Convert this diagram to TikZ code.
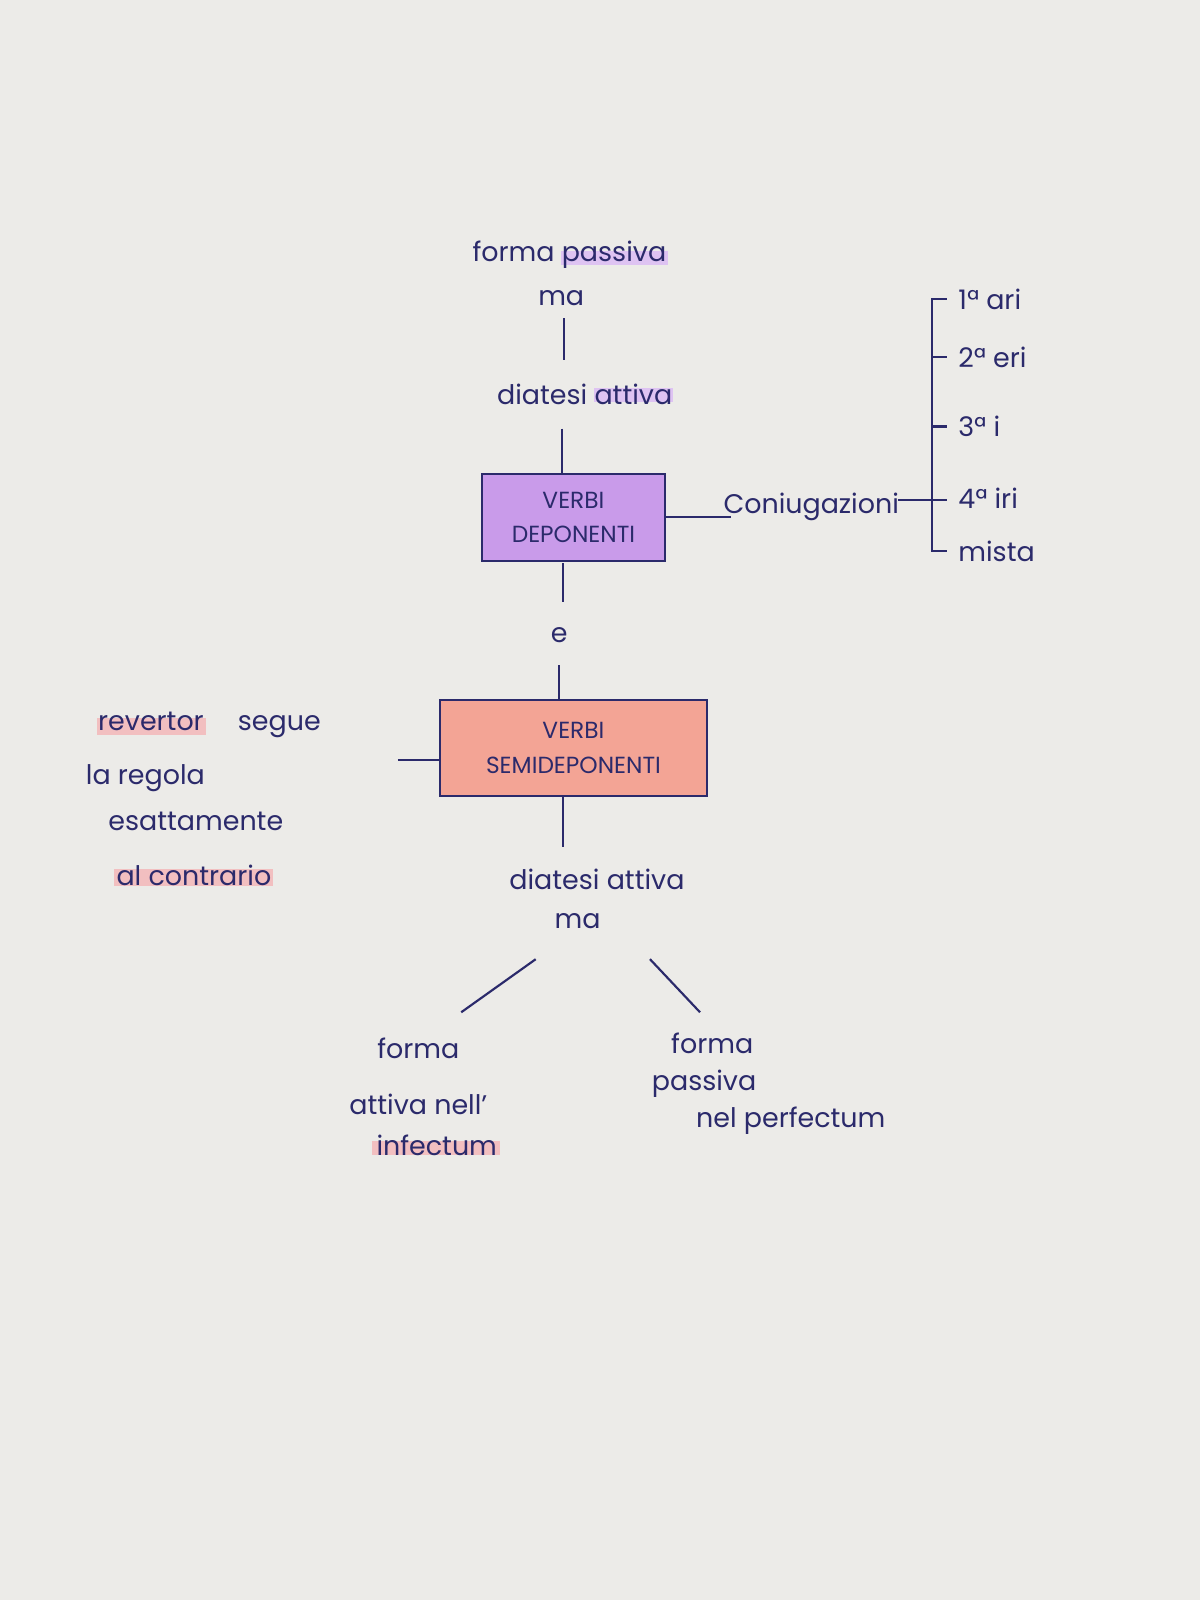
\documentclass[tikz,border=0pt]{standalone}
\usepackage{fontspec}
\setmainfont{Poppins}
\begin{document}
\begin{tikzpicture}[x=0.01cm,y=-0.01cm,
  ink/.style={draw=inkc,line width=0.6pt},
  txt/.style={text=inkc,font=\fontsize{7.5}{9}\selectfont,inner sep=1pt},
  box/.style={ink,minimum width=1.79cm,minimum height=0.85cm,align=center,text=inkc,font=\fontsize{6.5}{9.5}\selectfont}]
\definecolor{inkc}{HTML}{2B2A6B}
\definecolor{paper}{HTML}{ECEBE8}
\definecolor{purp}{HTML}{C99BEA}
\definecolor{salm}{HTML}{F3A495}
\definecolor{hlp}{HTML}{F2BFC0}
\definecolor{hlv}{HTML}{DEC3F2}
\fill[paper] (0,0) rectangle (1176,1568);
\useasboundingbox (0,0) rectangle (1176,1568);
% highlights
\fill[hlp] (95,704) rectangle (202,720);
\fill[hlp] (112,852) rectangle (268,868);
\fill[hlp] (365,1118) rectangle (490,1132);
\fill[hlv] (550,246) rectangle (655,260);
\fill[hlv] (582,380) rectangle (660,394);
% top column
\node[txt] (fp) at (558,250) {forma passiva};
\node[txt] (ma1) at (550,292) {ma};
\node[txt] (da1) at (573,386) {diatesi attiva};
\node[box,fill=purp] (vd) at (562,507) {VERBI\\DEPONENTI};
\draw[ink] (553,312) -- (553,353);
\draw[ink] (551,420) -- (551,465);
\node[txt] (co) at (795,497) {Coniugazioni};
\draw[ink] (vd.east) -- (716,507);
% brace
\coordinate (bt) at (913,293);
\coordinate (bb) at (913,540);
\draw[ink] (928,293) -- (bt) -- (bb) -- (928,540);
\draw[ink] (913,350) -- (928,350);
\draw[ink] (913,418) -- (928,418);
\draw[ink] (880,490) -- (928,490);
\node[txt,anchor=west] (c1) at (935,293) {1ª ari};
\node[txt,anchor=west] (c2) at (935,350) {2ª eri};
\node[txt,anchor=west] (c3) at (935,418) {3ª i};
\node[txt,anchor=west] (c4) at (935,488) {4ª iri};
\node[txt,anchor=west] (c5) at (935,540) {mista};
% e
\node[txt] (e) at (548,622) {e};
\draw[ink] (552,552) -- (552,590);
\node[box,fill=salm,minimum width=2.61cm,minimum height=0.94cm] (vs) at (562,733) {VERBI\\SEMIDEPONENTI};
\draw[ink] (548,652) -- (548,686);
\draw[ink] (390,745) -- (vs.west |- 0,745);
% left note
\node[txt,anchor=west] (l1) at (92,710) {revertor \quad segue};
\node[txt,anchor=west] (l2) at (80,763) {la regola};
\node[txt,anchor=west] (l3) at (102,805) {esattamente};
\node[txt,anchor=west] (l4) at (110,858) {al contrario};
% bottom
\draw[ink] (552,781) -- (552,830);
\node[txt] (da2) at (585,862) {diatesi attiva};
\node[txt] (ma2) at (566,903) {ma};
\draw[ink] (525,940) -- (452,992);
\draw[ink] (637,940) -- (686,992);
\node[txt] (fa1) at (410,1027) {forma};
\node[txt] (fa2) at (410,1082) {attiva nell'};
\node[txt] (fa3) at (428,1122) {infectum};
\node[txt] (fb1) at (698,1022) {forma};
\node[txt] (fb2) at (690,1062) {passiva};
\node[txt] (fb3) at (775,1098) {nel perfectum};
\end{tikzpicture}
\end{document}
